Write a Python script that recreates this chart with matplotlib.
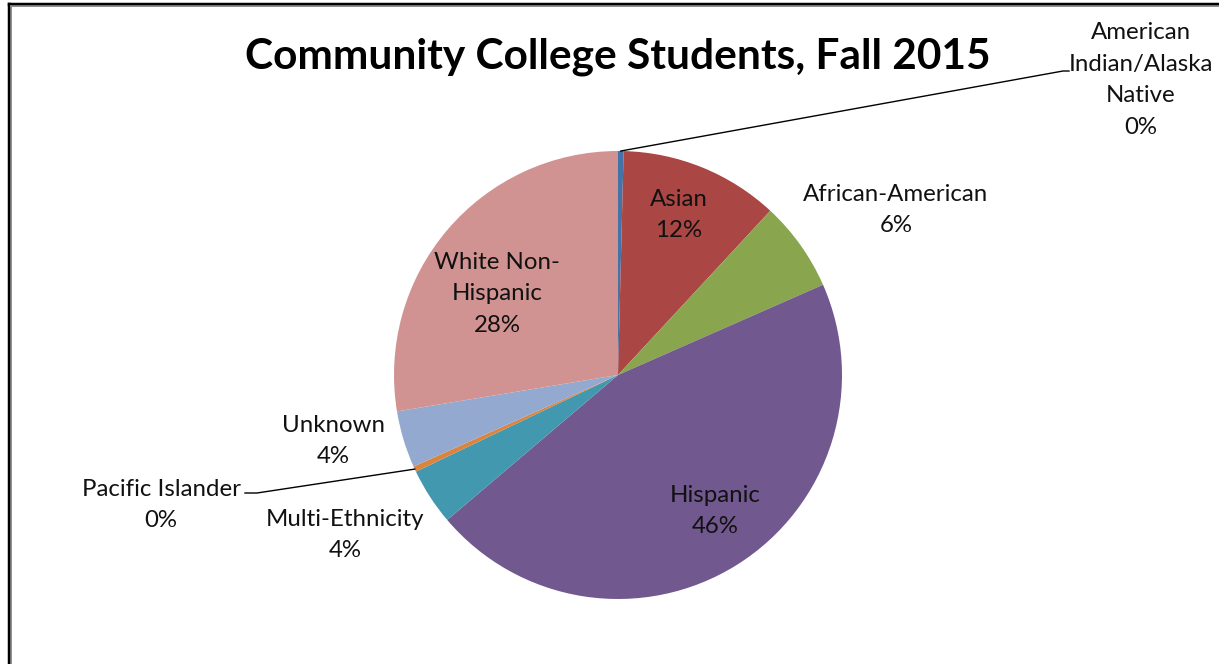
import matplotlib.pyplot as plt
from matplotlib.lines import Line2D
import numpy as np

labels = ['American\nIndian/Alaska\nNative', 'Asian', 'African-American', 'Hispanic',
          'Multi-Ethnicity', 'Pacific Islander', 'Unknown', 'White Non-\nHispanic']
shares = [0.4, 11.5, 6.5, 45.4, 4.1, 0.4, 4.1, 27.6]
pct_text = ['0%', '12%', '6%', '46%', '4%', '0%', '4%', '28%']
colors = ['#4572A7', '#AA4643', '#89A54E', '#71588F', '#4198AF', '#DB843D', '#93A9CF', '#D19392']

# label centres in pixels (x, y from top)
label_pos = [(1141, 80), (679, 215), (896, 210), (715, 511),
             (345, 535), (161, 505), (333, 441), (497, 294)]
# leader lines: label index -> elbow point, end point
leaders = {0: ((1063, 71), (1069, 71)), 5: ((257, 493), (245, 493))}

W, H = 1219, 664
cx, cy, r = 618, 375, 224

plt.rcParams['font.family'] = ['Lato', 'DejaVu Sans']

fig = plt.figure(figsize=(W / 100, H / 100), dpi=100)
ax = fig.add_axes([0, 0, 1, 1])

wedges, _ = ax.pie(shares, colors=colors, startangle=90, counterclock=False,
                   center=(cx, H - cy), radius=r, frame=True,
                   wedgeprops=dict(linewidth=0))
ax.set_xlim(0, W)
ax.set_ylim(0, H)
ax.set_aspect('equal')
ax.axis('off')

for i, (lab, pct) in enumerate(zip(labels, pct_text)):
    x, y = label_pos[i]
    ax.text(x, H - y, lab + '\n' + pct, ha='center', va='center',
            fontsize=17.3, linespacing=1.62, color='#111111')

for i, (elbow, end) in leaders.items():
    w = wedges[i]
    mid = np.deg2rad((w.theta1 + w.theta2) / 2)
    sx = cx + r * np.cos(mid)
    sy = (H - cy) + r * np.sin(mid)
    ax.plot([sx, elbow[0], end[0]], [sy, H - elbow[1], H - end[1]],
            color='black', lw=1)

ax.text(618, H - 57, 'Community College Students, Fall 2015', ha='center', va='center',
        fontsize=30.5, fontweight='bold')

# chart frame (left and top edges visible)
fig.add_artist(Line2D([8.5 / W, 8.5 / W], [0, 1 - 3.5 / H], color='black', lw=2.5))
fig.add_artist(Line2D([8.5 / W, 1], [1 - 3.5 / H, 1 - 3.5 / H], color='black', lw=2.5))
fig.add_artist(Line2D([10.5 / W, 10.5 / W], [0, 1 - 5.5 / H], color='#888888', lw=1.2))
fig.add_artist(Line2D([10.5 / W, 1], [1 - 5.5 / H, 1 - 5.5 / H], color='#888888', lw=1.2))

fig.savefig('out.png', dpi=100)
